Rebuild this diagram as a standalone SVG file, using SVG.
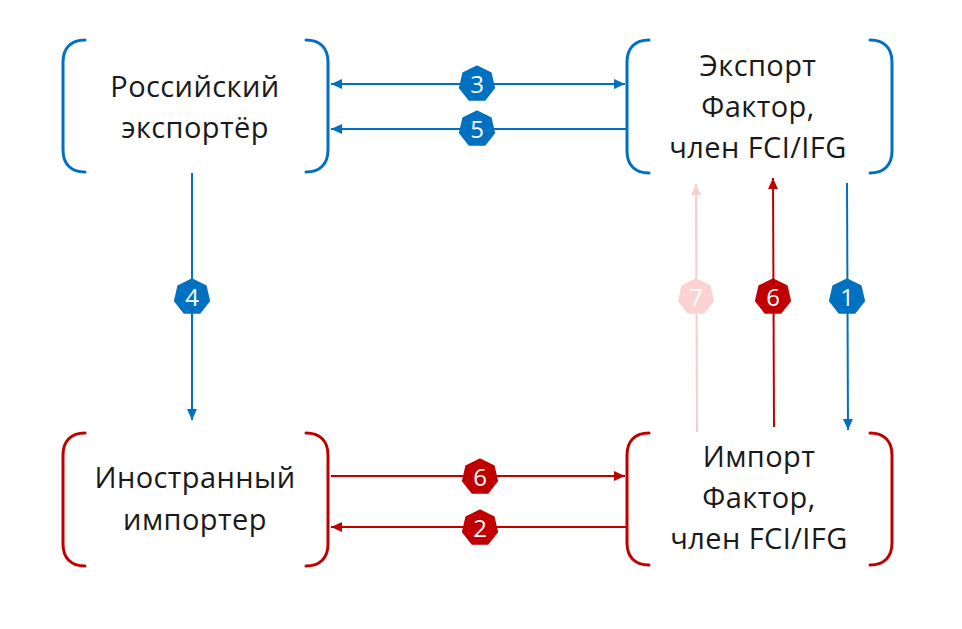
<svg xmlns="http://www.w3.org/2000/svg" xmlns:xlink="http://www.w3.org/1999/xlink" width="962" height="629" viewBox="0 0 962 629">
<style>
.br{fill:none;stroke-width:3;stroke-linecap:round}
.blue{stroke:#0070C0}
.red{stroke:#C00000}
.pink{stroke:#F9CDCD}
.lbl{font-family:"Open Sans","Liberation Sans",sans-serif;font-size:29px;letter-spacing:0.4px;fill:#1a1a1a;text-anchor:middle}
.num{font-family:"Open Sans","Liberation Sans",sans-serif;font-size:24px;fill:#ffffff;text-anchor:middle}
.ln{fill:none;stroke-width:2}
</style>
<defs>
<polygon id="hept" points="0,-17.5 13.7,-10.9 17.1,3.9 7.6,15.8 -7.6,15.8 -17.1,3.9 -13.7,-10.9" stroke-linejoin="round" stroke-width="2"/>
<marker id="ab" markerUnits="userSpaceOnUse" markerWidth="12" markerHeight="10" refX="11" refY="5" orient="auto-start-reverse"><path d="M0,0 L11,5 L0,10 Z" fill="#0070C0"/></marker>
<marker id="ar" markerUnits="userSpaceOnUse" markerWidth="12" markerHeight="10" refX="11" refY="5" orient="auto-start-reverse"><path d="M0,0 L11,5 L0,10 Z" fill="#C00000"/></marker>
<marker id="ap" markerUnits="userSpaceOnUse" markerWidth="12" markerHeight="10" refX="11" refY="5" orient="auto-start-reverse"><path d="M0,0 L11,5 L0,10 Z" fill="#F9CDCD"/></marker>
</defs>

<g id="node-russian-exporter">
<path class="br blue" d="M85,40 C71,40 63,48 63,62 V150 C63,164 71,172 85,172"/>
<path class="br blue" d="M306,40 C320,40 328,48 328,62 V150 C328,164 320,172 306,172"/>
<text class="lbl" x="195" y="97">Российский</text>
<text class="lbl" x="195" y="138">экспортёр</text>
</g>

<g id="node-export-factor">
<path class="br blue" d="M649,40 C635,40 627,48 627,62 V151 C627,165 635,173 649,173"/>
<path class="br blue" d="M870,40 C884,40 892,48 892,62 V151 C892,165 884,173 870,173"/>
<text class="lbl" x="758" y="76">Экспорт</text>
<text class="lbl" x="758" y="117">Фактор,</text>
<text class="lbl" x="758" y="158">член FCI/IFG</text>
</g>

<g id="node-foreign-importer">
<path class="br red" d="M85,433 C71,433 63,441 63,455 V544 C63,558 71,566 85,566"/>
<path class="br red" d="M306,433 C320,433 328,441 328,455 V544 C328,558 320,566 306,566"/>
<text class="lbl" x="195" y="488">Иностранный</text>
<text class="lbl" x="195" y="530">импортер</text>
</g>

<g id="node-import-factor">
<path class="br red" d="M649,433 C635,433 627,441 627,455 V543 C627,557 635,565 649,565"/>
<path class="br red" d="M870,433 C884,433 892,441 892,455 V543 C892,557 884,565 870,565"/>
<text class="lbl" x="759" y="467">Импорт</text>
<text class="lbl" x="759" y="508">Фактор,</text>
<text class="lbl" x="759" y="549">член FCI/IFG</text>
</g>

<g id="connectors">
<line class="ln blue" x1="331" y1="84" x2="625" y2="84" marker-start="url(#ab)" marker-end="url(#ab)"/>
<line class="ln blue" x1="626" y1="129" x2="331" y2="129" marker-end="url(#ab)"/>
<line class="ln blue" x1="192" y1="173" x2="192" y2="420" marker-end="url(#ab)"/>
<line class="ln pink" x1="697" y1="432" x2="696" y2="184" marker-end="url(#ap)"/>
<line class="ln red" x1="774" y1="427" x2="773" y2="178" marker-end="url(#ar)"/>
<line class="ln blue" x1="847" y1="183" x2="848" y2="430" marker-end="url(#ab)"/>
<line class="ln red" x1="331" y1="476" x2="625" y2="476" marker-end="url(#ar)"/>
<line class="ln red" x1="626" y1="527" x2="331" y2="527" marker-end="url(#ar)"/>

<use xlink:href="#hept" x="477" y="84" fill="#0070C0" stroke="#0070C0"/>
<text class="num" x="477" y="92.5">3</text>
<use xlink:href="#hept" x="477" y="129" fill="#0070C0" stroke="#0070C0"/>
<text class="num" x="477" y="137.5">5</text>
<use xlink:href="#hept" x="192" y="297" fill="#0070C0" stroke="#0070C0"/>
<text class="num" x="192" y="305.5">4</text>
<use xlink:href="#hept" x="696" y="297" fill="#FBD3D3" stroke="#FBD3D3"/>
<text class="num" x="696" y="305.5">7</text>
<use xlink:href="#hept" x="773" y="297" fill="#C00000" stroke="#C00000"/>
<text class="num" x="773" y="305.5">6</text>
<use xlink:href="#hept" x="847" y="297" fill="#0070C0" stroke="#0070C0"/>
<text class="num" x="847" y="305.5">1</text>
<use xlink:href="#hept" x="480" y="477" fill="#C00000" stroke="#C00000"/>
<text class="num" x="480" y="485.5">6</text>
<use xlink:href="#hept" x="480" y="528" fill="#C00000" stroke="#C00000"/>
<text class="num" x="480" y="536.5">2</text>
</g>
</svg>
